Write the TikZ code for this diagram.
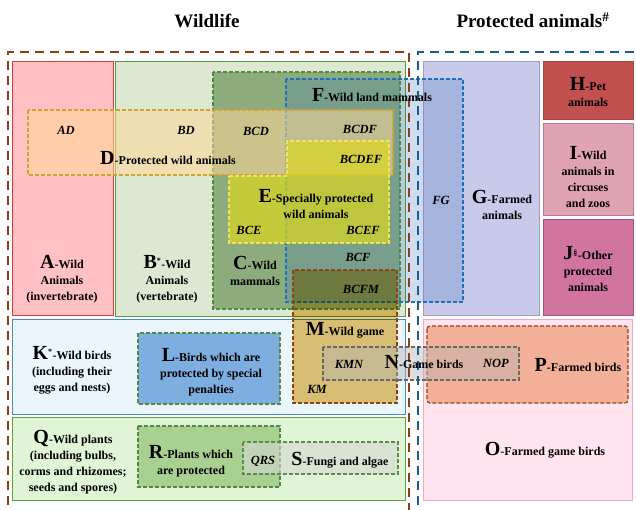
\documentclass[tikz,border=0pt]{standalone}
\usepackage{fontspec}
\setmainfont{Liberation Serif}

\definecolor{cA}{HTML}{FFC1C4} \definecolor{lA}{HTML}{D93A3A}
\definecolor{cB}{HTML}{DDE8D3} \definecolor{lB}{HTML}{5A9444}
\definecolor{cC}{HTML}{8DAC7E} \definecolor{lC}{HTML}{4F8A3E}
\definecolor{cF}{HTML}{3A78B8} \definecolor{lF}{HTML}{1E6FC0}
\definecolor{cD}{HTML}{FFD796} \definecolor{lD}{HTML}{D4A030}
\definecolor{cE}{HTML}{DCD71E} \definecolor{lE}{HTML}{F2E45A}
\definecolor{cM}{HTML}{ECC676} \definecolor{lM}{HTML}{8B4513}
\definecolor{cK}{HTML}{EAF5FC} \definecolor{lK}{HTML}{4A88CC}
\definecolor{cL}{HTML}{7EAEE0}
\definecolor{cN}{HTML}{B4B4B4} \definecolor{lN}{HTML}{666666}
\definecolor{cQ}{HTML}{DFF5D6} \definecolor{lQ}{HTML}{5E9E48}
\definecolor{cR}{HTML}{A8D090}
\definecolor{cS}{HTML}{D4D8D0} \definecolor{lS}{HTML}{5E8A50}
\definecolor{cG}{HTML}{C9C9E9} \definecolor{lG}{HTML}{9C9CC4}
\definecolor{cH}{HTML}{C1504F} \definecolor{lH}{HTML}{A84448}
\definecolor{cI}{HTML}{DFA3B3} \definecolor{lI}{HTML}{B87A8C}
\definecolor{cJ}{HTML}{D175A0} \definecolor{lJ}{HTML}{A8507A}
\definecolor{cO}{HTML}{FFE4EF} \definecolor{lO}{HTML}{F4A9C2}
\definecolor{cP}{HTML}{F2B098}
\definecolor{oBrown}{HTML}{8E3F12} \definecolor{oBlue}{HTML}{1F5B92}

\newcommand{\biglet}[1]{{\fontsize{20}{20}\selectfont #1}}

\tikzset{
    lbl/.style={font=\fontsize{12}{16}\selectfont\bfseries, align=center, inner sep=0pt},
    tag/.style={font=\fontsize{12.5}{14}\selectfont\bfseries\itshape, inner sep=0pt},
    region/.style={line width=1pt},
    dregion/.style={line width=1.2pt, dash pattern=on 4pt off 2pt},
    outer/.style={line width=2.2pt, dash pattern=on 9pt off 6pt}
}

\begin{document}
\begin{tikzpicture}[x=1pt, y=-1pt]
        \useasboundingbox (0,0) rectangle (636,510);
        \clip (0,0) rectangle (636,510);

        % base regions
        \filldraw[region, fill=cA, draw=lA] (12,62) rectangle (113,315);
        \filldraw[region, fill=cB, draw=lB] (115,62) rectangle (405,316);
        \filldraw[region, fill=cG, draw=lG] (423,62) rectangle (539,315);
        \filldraw[region, fill=cH, draw=lH] (543,62) rectangle (633,120);
        \filldraw[region, fill=cI, draw=lI] (543,124) rectangle (633,216);
        \filldraw[region, fill=cJ, draw=lJ] (543,220) rectangle (633,315);
        \filldraw[region, fill=cK, draw=lK] (12,319) rectangle (405,414);
        \filldraw[region, fill=cQ, draw=lQ] (12,417) rectangle (405,500);
        \filldraw[region, fill=cO, draw=lO] (423,319) rectangle (632,500);

        % overlapping sets
        \filldraw[dregion, fill=cC, draw=lC] (213,72) rectangle (400,309);
        \filldraw[dregion, fill=cF, fill opacity=.25, draw=lF] (286,79) rectangle (463,302);
        \filldraw[dregion, fill=cD, fill opacity=.55, draw=lD] (28,110) rectangle (393,175);
        \filldraw[dregion, fill=cE, fill opacity=.7, draw=lE]
            (229,176) -- (287,176) -- (287,141) -- (389,141) -- (389,243) -- (229,243) -- cycle;
        \filldraw[dregion, fill=cL, draw=lC] (138,333) rectangle (280,404);
        \fill[cM, blend mode=multiply] (293,270) rectangle (397,403);
        \draw[dregion, draw=lM] (293,270) rectangle (397,403);
        \filldraw[dregion, fill=cP, draw=lM, rounded corners=3pt] (427,326) rectangle (628,403);
        \filldraw[dregion, fill=cN, fill opacity=.45, draw=lN] (323,347) rectangle (519,380);
        \filldraw[dregion, fill=cR, draw=lC] (138,426) rectangle (280,487);
        \filldraw[dregion, fill=cS, fill opacity=.6, draw=lS] (243,442) rectangle (398,474);

        % outer groups
        \draw[outer, draw=oBrown] (8,520) -- (8,52) -- (409,52) -- (409,520);
        \draw[outer, draw=oBlue] (418,520) -- (418,52) -- (650,52);

        % titles
        \node[font=\fontsize{19}{19}\selectfont\bfseries] (ttlWild) at (207,21) {Wildlife};
        \node[font=\fontsize{19}{19}\selectfont\bfseries] (ttlProt) at (533,20) {Protected animals\textsuperscript{\#}};

        % set labels
        \node[lbl] (txtA) at (62,279) {\biglet{A}-Wild\\Animals\\(invertebrate)};
        \node[lbl] (txtB) at (167,279) {\biglet{B}\textsuperscript{*}-Wild\\Animals\\(vertebrate)};
        \node[lbl] (txtC) at (255,271) {\biglet{C}-Wild\\mammals};
        \node[lbl] (txtD) at (168,158) {\biglet{D}-Protected wild animals};
        \node[lbl] (txtE) at (316,204) {\biglet{E}-Specially protected\\wild animals};
        \node[lbl] (txtF) at (372,95) {\biglet{F}-Wild land mammals};
        \node[lbl] (txtG) at (502,205) {\biglet{G}-Farmed\\animals};
        \node[lbl] (txtH) at (588,92) {\biglet{H}-Pet\\animals};
        \node[lbl] (txtI) at (588,177) {\biglet{I}-Wild\\animals in\\circuses\\and zoos};
        \node[lbl] (txtJ) at (588,269) {\biglet{J}\textsuperscript{\S}-Other\\protected\\animals};
        \node[lbl] (txtK) at (72,370) {\biglet{K}\textsuperscript{*}-Wild birds\\(including their\\eggs and nests)};
        \node[lbl] (txtL) at (211,372) {\biglet{L}-Birds which are\\protected by special\\penalties};
        \node[lbl] (txtM) at (345,330) {\biglet{M}-Wild game};
        \node[lbl] (txtN) at (424,362) {\biglet{N}-Game birds};
        \node[lbl] (txtO) at (545,450) {\biglet{O}-Farmed game birds};
        \node[lbl] (txtP) at (578,365) {\biglet{P}-Farmed birds};
        \node[lbl] (txtQ) at (73,462) {\biglet{Q}-Wild plants\\(including bulbs,\\corms and rhizomes;\\seeds and spores)};
        \node[lbl] (txtR) at (191,461) {\biglet{R}-Plants which\\are protected};
        \node[lbl] (txtS) at (340,460) {\biglet{S}-Fungi and algae};

        % intersection tags
        \node[tag] (tagAD) at (66,130) {AD};
        \node[tag] (tagBD) at (186,130) {BD};
        \node[tag] (tagBCD) at (256,131) {BCD};
        \node[tag] (tagBCDF) at (360,129) {BCDF};
        \node[tag] (tagBCDEF) at (361,159) {BCDEF};
        \node[tag] (tagBCE) at (249,230) {BCE};
        \node[tag] (tagBCEF) at (363,230) {BCEF};
        \node[tag] (tagBCF) at (358,257) {BCF};
        \node[tag] (tagBCFM) at (361,289) {BCFM};
        \node[tag] (tagFG) at (441,200) {FG};
        \node[tag] (tagKMN) at (349,364) {KMN};
        \node[tag] (tagKM) at (317,389) {KM};
        \node[tag] (tagNOP) at (496,363) {NOP};
        \node[tag] (tagQRS) at (263,461) {QRS};
    \end{tikzpicture}
\end{document}
